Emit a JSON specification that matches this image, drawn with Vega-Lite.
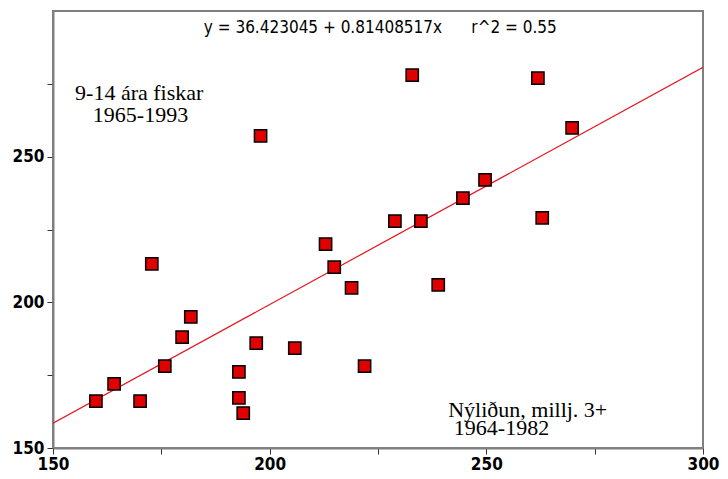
{
  "$schema": "https://vega.github.io/schema/vega-lite/v6.json",
  "width": 650,
  "height": 437,
  "autosize": "none",
  "padding": {"left": 53, "top": 11, "right": 25, "bottom": 31},
  "background": "white",
  "config": {
    "view": {"stroke": "#808080", "strokeWidth": 2},
    "axis": {"grid": false, "domainColor": "#808080", "domainWidth": 2, "tickColor": "#333333", "labelColor": "black", "labelFont": "DejaVu Sans Condensed, Liberation Sans", "labelFontSize": 17, "labelFontWeight": "bold", "tickSize": 6}
  },
  "datasets": {
    "pts": [
      {"nyl": 159.9, "fisk": 166.1},
      {"nyl": 164.1, "fisk": 172.0},
      {"nyl": 170.1, "fisk": 166.1},
      {"nyl": 172.8, "fisk": 213.2},
      {"nyl": 175.8, "fisk": 178.1},
      {"nyl": 179.8, "fisk": 188.1},
      {"nyl": 181.8, "fisk": 195.0},
      {"nyl": 192.9, "fisk": 176.1},
      {"nyl": 192.9, "fisk": 167.2},
      {"nyl": 193.9, "fisk": 162.0},
      {"nyl": 196.9, "fisk": 186.0},
      {"nyl": 197.9, "fisk": 257.1},
      {"nyl": 205.8, "fisk": 184.3},
      {"nyl": 212.9, "fisk": 220.0},
      {"nyl": 214.9, "fisk": 212.1},
      {"nyl": 218.9, "fisk": 205.0},
      {"nyl": 221.9, "fisk": 178.1},
      {"nyl": 228.9, "fisk": 227.9},
      {"nyl": 232.9, "fisk": 278.0},
      {"nyl": 234.9, "fisk": 227.9},
      {"nyl": 238.9, "fisk": 206.0},
      {"nyl": 244.6, "fisk": 235.8},
      {"nyl": 249.7, "fisk": 242.0},
      {"nyl": 261.9, "fisk": 277.0},
      {"nyl": 262.9, "fisk": 229.0},
      {"nyl": 269.8, "fisk": 259.9}
    ],
    "fit": [
      {"nyl": 150, "fisk": 158.53},
      {"nyl": 300, "fisk": 280.65}
    ],
    "notes": [
      {"t": "y = 36.423045 + 0.81408517x", "nx": 212.3, "ny": 294.2},
      {"t": "r^2 = 0.55", "nx": 256.4, "ny": 294.2}
    ],
    "labels": [
      {"t": "9-14 ára fiskar", "nx": 155.1, "ny": 271.9},
      {"t": "1965-1993", "nx": 159.2, "ny": 264.3},
      {"t": "Nýliðun, millj. 3+", "nx": 241.2, "ny": 163.0},
      {"t": "1964-1982", "nx": 242.5, "ny": 156.9}
    ]
  },
  "layer": [
    {
      "data": {"name": "fit"},
      "mark": {"type": "line", "color": "#e8141c", "strokeWidth": 1.2, "clip": true},
      "encoding": {
        "x": {"field": "nyl", "type": "quantitative", "scale": {"domain": [150, 300], "nice": false, "zero": false},
          "axis": {"title": null, "values": [150, 175, 200, 225, 250, 275, 300], "labelExpr": "datum.value % 50 == 0 ? datum.label : ''", "labelPadding": 2, "labelFlush": false}},
        "y": {"field": "fisk", "type": "quantitative", "scale": {"domain": [150, 300], "nice": false, "zero": false},
          "axis": {"title": null, "values": [150, 175, 200, 225, 250, 275], "labelExpr": "datum.value % 50 == 0 ? datum.label : ''", "labelPadding": 3}}
      }
    },
    {
      "data": {"name": "pts"},
      "mark": {"type": "square", "size": 150, "fill": "#e00000", "stroke": "black", "strokeWidth": 1.5, "opacity": 1},
      "encoding": {
        "x": {"field": "nyl", "type": "quantitative"},
        "y": {"field": "fisk", "type": "quantitative"}
      }
    },
    {
      "data": {"name": "notes"},
      "mark": {"type": "text", "font": "DejaVu Sans Condensed, Liberation Sans", "fontSize": 17, "align": "center", "baseline": "middle", "color": "black"},
      "encoding": {
        "text": {"field": "t"},
        "x": {"field": "nx", "type": "quantitative"},
        "y": {"field": "ny", "type": "quantitative"}
      }
    },
    {
      "data": {"name": "labels"},
      "mark": {"type": "text", "font": "Liberation Serif", "fontSize": 22, "align": "left", "baseline": "middle", "color": "black"},
      "encoding": {
        "text": {"field": "t"},
        "x": {"field": "nx", "type": "quantitative"},
        "y": {"field": "ny", "type": "quantitative"}
      }
    }
  ]
}
